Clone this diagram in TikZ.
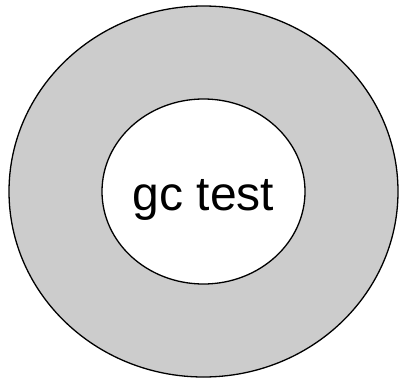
\documentclass[tikz,border=0pt]{standalone}
\usepackage{fontspec}
\setmainfont{Liberation Sans}
\usetikzlibrary{shapes.geometric}
\definecolor{ringgray}{RGB}{204,204,204}

\begin{document}
\begin{tikzpicture}[x=1pt, y=1pt, every node/.style={inner sep=0pt},
  blob/.style={ellipse,draw=black,line width=1.3pt}]
\useasboundingbox (0,0) rectangle (403,378);
\node[blob,fill=ringgray,minimum width=389pt,minimum height=371pt] (ring) at (203.5,186.5) {};
\node[blob,fill=white,minimum width=203pt,minimum height=185pt] (core) at (ring.center) {};
\node[anchor=base,font=\fontsize{48}{52}\selectfont] (label) at (203.5,168) {gc test};
\end{tikzpicture}
\end{document}
